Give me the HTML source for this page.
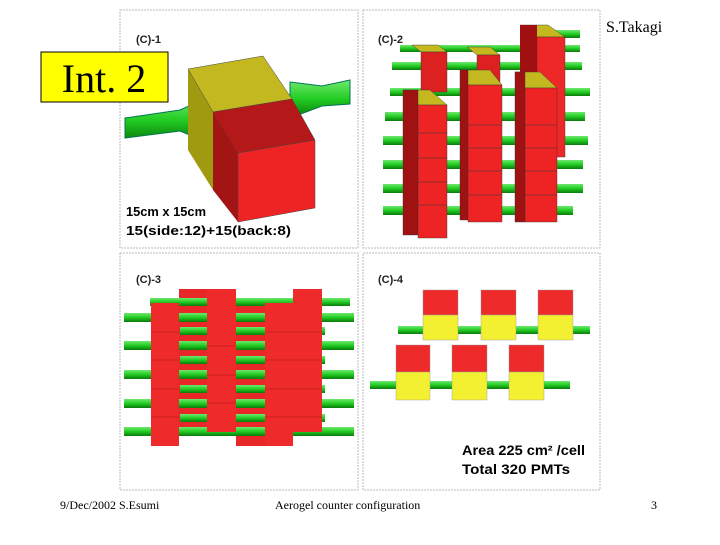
<!DOCTYPE html>
<html><head><meta charset="utf-8"><style>
body{margin:0;background:#fff;width:720px;height:540px;overflow:hidden;font-family:"Liberation Sans",sans-serif}
</style></head><body>
<svg width="720" height="540" xmlns="http://www.w3.org/2000/svg">
<defs>
<linearGradient id="tg" x1="0" y1="0" x2="0" y2="1"><stop offset="0" stop-color="#6ee86e"/><stop offset="0.5" stop-color="#22cc22"/><stop offset="1" stop-color="#0a7a0a"/></linearGradient>
</defs>
<g fill="none" stroke="#bbb" stroke-dasharray="2,1">
<rect x="120" y="10" width="238" height="238"/>
<rect x="363" y="10" width="237" height="238"/>
<rect x="120" y="253" width="238" height="237"/>
<rect x="363" y="253" width="237" height="237"/>
</g>
<g font-size="11" font-weight="bold" fill="#222">
<text x="136" y="43">(C)-1</text><text x="378" y="43">(C)-2</text>
<text x="136" y="283">(C)-3</text><text x="378" y="283">(C)-4</text>
</g>
<!-- panel 1 -->
<path d="M125 118 L180 110 L207 98 L207 142 L180 131 L125 138 Z" fill="url(#tg)" stroke="#075" stroke-width="1"/>
<path d="M290 82 L322 86 L350 80 L350 104 L322 106 L290 118 Z" fill="url(#tg)" stroke="#075" stroke-width="1"/>
<path d="M188 69 L213 112 L213 190 L188 150 Z" fill="#a09a10"/>
<path d="M188 69 L263 56 L292 99 L213 112 Z" fill="#c4b820" stroke="#444" stroke-width="0.5"/>
<path d="M213 112 L292 99 L315 140 L238 153 Z" fill="#b51818" stroke="#444" stroke-width="0.5"/>
<path d="M213 112 L238 153 L238 222 L213 190 Z" fill="#a31414"/>
<path d="M238 153 L315 140 L315 208 L238 222 Z" fill="#ee2424" stroke="#444" stroke-width="0.5"/>
<text x="126" y="216" font-size="13" font-weight="900" fill="#000" textLength="80" lengthAdjust="spacingAndGlyphs">15cm x 15cm</text>
<text x="126" y="235" font-size="13" font-weight="900" fill="#000" textLength="165" lengthAdjust="spacingAndGlyphs">15(side:12)+15(back:8)</text>
<!-- panel 2 tubes -->
<g fill="url(#tg)">
<rect x="392" y="62" width="190" height="8"/><rect x="390" y="88" width="200" height="8"/>
<rect x="385" y="112" width="200" height="9"/><rect x="383" y="136" width="205" height="9"/>
<rect x="383" y="160" width="200" height="9"/><rect x="383" y="184" width="200" height="9"/>
<rect x="383" y="206" width="190" height="9"/><rect x="548" y="30" width="32" height="8"/>
<rect x="400" y="45" width="180" height="7"/>
</g>
<g stroke="#333" stroke-width="0.4">
<path d="M412 45 L438 45 L447 52 L421 52 Z" fill="#c4b820"/><rect x="421" y="52" width="26" height="40" fill="#dd2020"/>
<path d="M467 47 L490 47 L500 55 L477 55 Z" fill="#c4b820"/><rect x="477" y="55" width="23" height="30" fill="#dd2020"/>
<path d="M520 25 L548 25 L565 37 L537 37 Z" fill="#c4b820"/><rect x="537" y="37" width="28" height="120" fill="#ee2828"/><rect x="520" y="25" width="17" height="50" fill="#a01010" stroke="none"/>
<path d="M403 90 L430 90 L447 105 L418 105 Z" fill="#c4b820"/>
<rect x="403" y="90" width="15" height="145" fill="#a01212"/>
<rect x="418" y="105" width="29" height="133" fill="#ee2424"/>
<path d="M460 70 L490 70 L502 85 L468 85 Z" fill="#c4b820"/>
<rect x="460" y="70" width="8" height="150" fill="#a01212"/>
<rect x="468" y="85" width="34" height="137" fill="#ee2424"/>
<path d="M515 72 L540 72 L557 88 L525 88 Z" fill="#c4b820"/>
<rect x="515" y="72" width="10" height="150" fill="#a01212"/>
<rect x="525" y="88" width="32" height="134" fill="#ee2424"/>
</g>
<g stroke="#333" stroke-width="0.6">
<line x1="418" y1="133" x2="447" y2="133"/><line x1="418" y1="158" x2="447" y2="158"/><line x1="418" y1="182" x2="447" y2="182"/><line x1="418" y1="205" x2="447" y2="205"/>
<line x1="468" y1="125" x2="502" y2="125"/><line x1="468" y1="148" x2="502" y2="148"/><line x1="468" y1="171" x2="502" y2="171"/><line x1="468" y1="195" x2="502" y2="195"/>
<line x1="525" y1="125" x2="557" y2="125"/><line x1="525" y1="148" x2="557" y2="148"/><line x1="525" y1="171" x2="557" y2="171"/><line x1="525" y1="195" x2="557" y2="195"/>
</g>
<!-- panel 3: back red -->
<g fill="#e82828">
<rect x="179" y="289" width="29" height="143"/><rect x="236" y="303" width="29" height="143"/>
</g>
<g fill="url(#tg)">
<rect x="124" y="313" width="230" height="9"/><rect x="124" y="341" width="230" height="9"/>
<rect x="124" y="370" width="230" height="9"/><rect x="124" y="399" width="230" height="9"/>
<rect x="124" y="427" width="230" height="9"/>
<rect x="150" y="298" width="200" height="8"/>
<rect x="180" y="327" width="145" height="8"/><rect x="180" y="356" width="145" height="8"/>
<rect x="180" y="385" width="145" height="8"/><rect x="180" y="414" width="145" height="8"/>
</g>
<g fill="#ee2a2a">
<rect x="151" y="303" width="28" height="143"/><rect x="207" y="289" width="29" height="143"/>
<rect x="265" y="303" width="28" height="143"/><rect x="293" y="289" width="29" height="143"/>
</g>
<g stroke="#b01010" stroke-width="0.6">
<line x1="151" y1="332" x2="179" y2="332"/><line x1="151" y1="360" x2="179" y2="360"/><line x1="151" y1="389" x2="179" y2="389"/><line x1="151" y1="417" x2="179" y2="417"/>
<line x1="265" y1="332" x2="322" y2="332"/><line x1="265" y1="360" x2="322" y2="360"/><line x1="265" y1="389" x2="322" y2="389"/><line x1="265" y1="417" x2="322" y2="417"/>
<line x1="207" y1="346" x2="236" y2="346"/><line x1="207" y1="375" x2="236" y2="375"/><line x1="207" y1="403" x2="236" y2="403"/>
</g>
<!-- panel 4 -->
<rect x="398" y="326" width="192" height="8" fill="url(#tg)"/>
<rect x="370" y="381" width="200" height="8" fill="url(#tg)"/>
<g stroke="#999" stroke-width="0.4">
<rect x="423" y="290" width="35" height="25" fill="#ee2a2a"/><rect x="423" y="315" width="35" height="25" fill="#f2f030"/>
<rect x="481" y="290" width="35" height="25" fill="#ee2a2a"/><rect x="481" y="315" width="35" height="25" fill="#f2f030"/>
<rect x="538" y="290" width="35" height="25" fill="#ee2a2a"/><rect x="538" y="315" width="35" height="25" fill="#f2f030"/>
<rect x="396" y="345" width="34" height="27" fill="#ee2a2a"/><rect x="396" y="372" width="34" height="28" fill="#f2f030"/>
<rect x="452" y="345" width="35" height="27" fill="#ee2a2a"/><rect x="452" y="372" width="35" height="28" fill="#f2f030"/>
<rect x="509" y="345" width="35" height="27" fill="#ee2a2a"/><rect x="509" y="372" width="35" height="28" fill="#f2f030"/>
</g>
<text x="462" y="455" font-size="14" font-weight="900" fill="#000" textLength="123" lengthAdjust="spacingAndGlyphs">Area 225 cm² /cell</text>
<text x="462" y="474" font-size="14" font-weight="900" fill="#000" textLength="108" lengthAdjust="spacingAndGlyphs">Total 320 PMTs</text>
<rect x="41" y="52" width="127" height="50" fill="#ffff00" stroke="#000" stroke-width="1"/>
<text x="104" y="92" font-family="Liberation Serif,serif" font-size="40" text-anchor="middle" fill="#000">Int. 2</text>
<text x="606" y="32" font-family="Liberation Serif,serif" font-size="16" fill="#000">S.Takagi</text>
<g font-family="Liberation Serif,serif" font-size="12" fill="#000">
<text x="60" y="509">9/Dec/2002 S.Esumi</text>
<text x="275" y="509">Aerogel counter configuration</text>
<text x="651" y="509">3</text>
</g>
</svg>
</body></html>
